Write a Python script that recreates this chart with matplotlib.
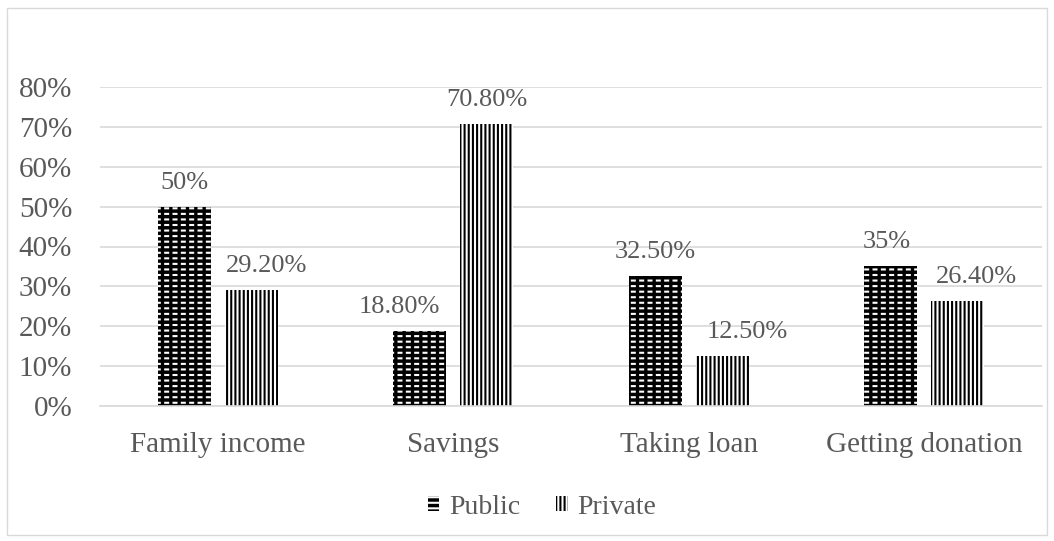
import matplotlib.pyplot as plt
import matplotlib.patches as mpatches
import numpy as np

categories = ['Family income', 'Savings', 'Taking loan', 'Getting donation']
public = [0.50, 0.188, 0.325, 0.35]
private = [0.292, 0.708, 0.125, 0.264]
public_labels = ['50%', '18.80%', '32.50%', '35%']
private_labels = ['29.20%', '70.80%', '12.50%', '26.40%']

# label nudges (pixels) like Excel does to avoid overlaps
public_dx = [0, -20, 0, -4]
private_dx = [15, 0, 25, 19]

plt.rcParams['font.family'] = ['Liberation Serif', 'DejaVu Serif']
plt.rcParams['hatch.linewidth'] = 1.5
grey = '#595959'

fig = plt.figure(figsize=(10.54, 5.41), dpi=100)
fig.patches.append(mpatches.Rectangle((7 / 1054, 1 - 535 / 541), 1040 / 1054, 527 / 541,
                                      transform=fig.transFigure, fill=False,
                                      edgecolor='#d9d9d9', linewidth=1))
ax = fig.add_axes([100 / 1054, 1 - 406 / 541, 942 / 1054, 319 / 541])

x = np.arange(len(categories))
w = 0.225
off = 0.1425
# public: black with white dashes (brick-like)
b1 = ax.bar(x - off, public, w, facecolor='black', edgecolor='white',
            hatch='---', linewidth=0, label='Public')
plt.rcParams['hatch.linewidth'] = 2.4
ax.bar(x - off, public, w, facecolor='none', edgecolor='black',
       hatch='||', linewidth=0)
plt.rcParams['hatch.linewidth'] = 1.5
b2 = ax.bar(x + off, private, w, facecolor='white', edgecolor='black',
            hatch='||||', linewidth=0, label='Private')

px = 0.72
for i in range(len(categories)):
    ax.annotate(public_labels[i], (x[i] - off, public[i]),
                xytext=(public_dx[i] * px, 24 * px), textcoords='offset points',
                ha='center', va='center', fontsize=19, color=grey)
    ax.annotate(private_labels[i], (x[i] + off, private[i]),
                xytext=(private_dx[i] * px, 24 * px), textcoords='offset points',
                ha='center', va='center', fontsize=19, color=grey)

ax.set_ylim(0, 0.8)
ax.set_xlim(-0.5, len(categories) - 0.5)
ax.set_yticks(np.arange(0, 0.81, 0.1))
ax.set_yticklabels([f'{int(round(v * 100))}%' for v in np.arange(0, 0.81, 0.1)])
ax.set_xticks(x)
ax.set_xticklabels(categories)
ax.tick_params(axis='both', length=0, labelsize=21, colors=grey)
ax.tick_params(axis='x', pad=19)
ax.tick_params(axis='y', pad=20)
ax.grid(axis='y', color='#d9d9d9', linewidth=1.2)
ax.set_axisbelow(True)
for s in ['top', 'right', 'left']:
    ax.spines[s].set_visible(False)
ax.spines['bottom'].set_color('#d9d9d9')
ax.spines['bottom'].set_linewidth(1.2)

leg = fig.legend(handles=[b1, b2], loc='center', bbox_to_anchor=(542 / 1054, 1 - 507 / 541),
                 ncol=2, frameon=False, fontsize=20, handlelength=0.42, handleheight=0.42,
                 handletextpad=0.35, columnspacing=1.3)
for t in leg.get_texts():
    t.set_color(grey)

fig.savefig('out.png', dpi=100)
